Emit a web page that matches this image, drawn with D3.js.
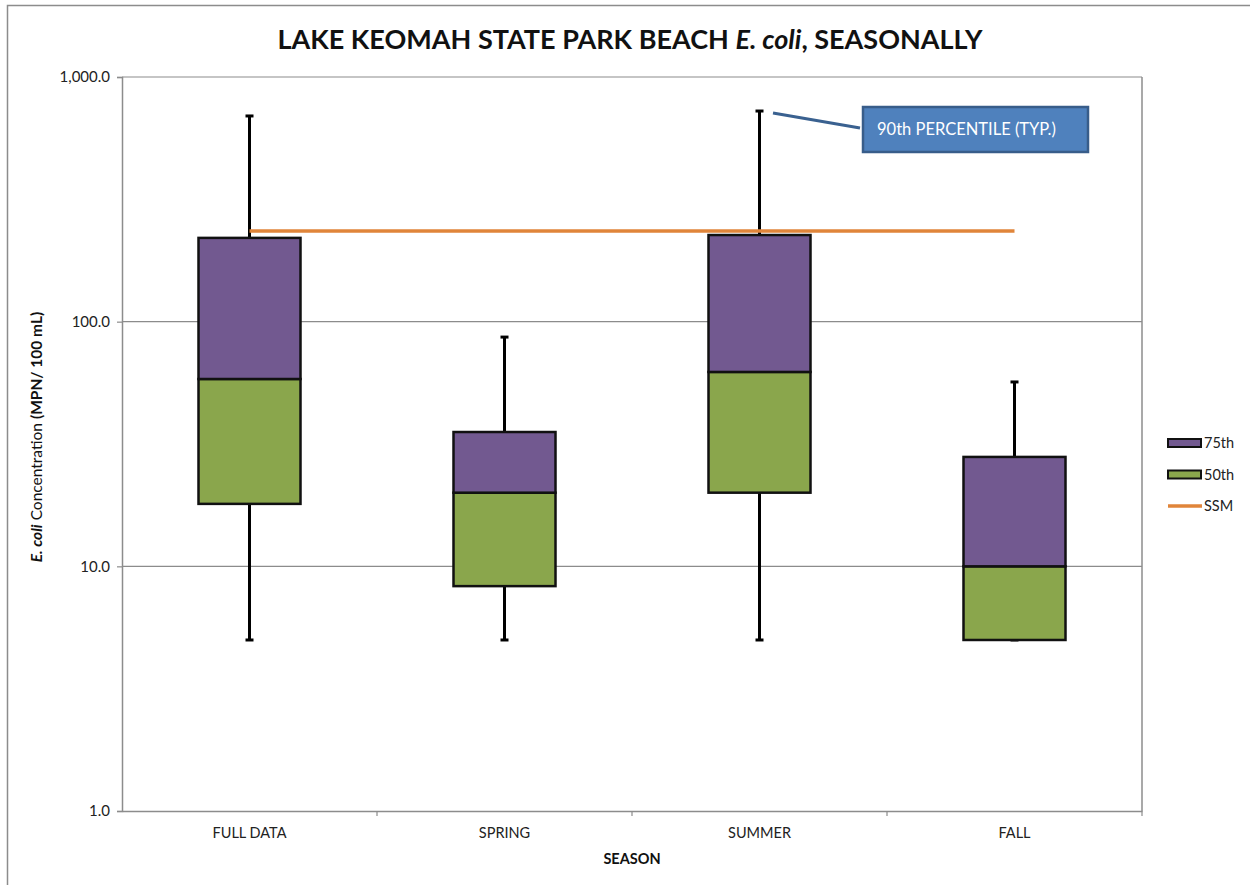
<!DOCTYPE html>
<html>
<head>
<meta charset="utf-8">
<script src="https://cdn.jsdelivr.net/npm/d3@7"></script>
<style>
  html, body { margin: 0; padding: 0; background: #fff; }
  svg { display: block; font-family: Lato, "Open Sans", sans-serif; }
</style>
</head>
<body>
<svg id="chart" width="1250" height="885"></svg>
<script>
// Seasonal E. coli statistics (MPN / 100 mL)
const seasons = ["FULL DATA", "SPRING", "SUMMER", "FALL"];
const p10 = [5.0, 5.0, 5.0, 5.0];
const q25 = [18.0, 8.3, 20.0, 5.0];
const q50 = [58.3, 20.0, 62.3, 10.0];
const q75 = [220, 35.4, 226, 28.0];
const p90 = [693, 86.5, 726, 56.7];
const ssm = 235;
const yTicks = [1, 10, 100, 1000];
const legendItems = ["75th", "50th", "SSM"];

const colors = { q75: "#725990", q50: "#8AA64C", ssm: "#E0853A", grid: "#8c8c8c" };

const svg = d3.select("#chart");
const margin = { left: 122, right: 1142, top: 77, bottom: 811 };

// outer frame (left and top edges)
svg.append("path")
  .attr("d", "M7.5,885 V5.5 H1250")
  .attr("fill", "none").attr("stroke", "#8c8c8c").attr("stroke-width", 1.5);

const x = d3.scaleBand().domain(seasons).range([margin.left, margin.right]).padding(0);
const y = d3.scaleLog().domain([1, 1000]).range([margin.bottom, margin.top]);

// horizontal gridlines
svg.append("g").selectAll("line").data(yTicks.slice(1)).join("line")
  .attr("x1", margin.left).attr("x2", margin.right)
  .attr("y1", d => y(d)).attr("y2", d => y(d))
  .attr("stroke", colors.grid).attr("stroke-width", 1.2);

// right border of plot area
svg.append("line")
  .attr("x1", margin.right).attr("x2", margin.right)
  .attr("y1", margin.top).attr("y2", margin.bottom)
  .attr("stroke", colors.grid).attr("stroke-width", 1.5);

// y axis
const yAxis = d3.axisLeft(y).tickValues(yTicks)
  .tickFormat(d3.format(",.1f")).tickSize(5).tickPadding(7);
const gy = svg.append("g").attr("transform", `translate(${margin.left},0)`).call(yAxis);
gy.select(".domain").attr("stroke", colors.grid).attr("stroke-width", 1.5);
gy.selectAll(".tick line").attr("stroke", colors.grid).attr("stroke-width", 1.2);
gy.selectAll(".tick text").attr("font-size", 15).attr("fill", "#222")
  .attr("font-family", "Lato, sans-serif");

// x axis
const xAxis = d3.axisBottom(x).tickSize(0).tickPadding(17);
const gx = svg.append("g").attr("transform", `translate(0,${margin.bottom})`).call(xAxis);
gx.select(".domain").attr("stroke", colors.grid).attr("stroke-width", 1.5);
gx.selectAll(".tick text").attr("font-size", 14.5).attr("fill", "#222")
  .attr("font-family", "Lato, sans-serif");
// category separator ticks
svg.append("g").selectAll("line").data(seasons).join("line")
  .attr("x1", d => x(d) + x.bandwidth()).attr("x2", d => x(d) + x.bandwidth())
  .attr("y1", margin.bottom).attr("y2", margin.bottom + 5)
  .attr("stroke", colors.grid).attr("stroke-width", 1.2);

// box plots
const boxW = x.bandwidth() * 0.4;
const cx = i => x(seasons[i]) + x.bandwidth() / 2;
const g = svg.append("g");
seasons.forEach((s, i) => {
  // whisker
  g.append("line").attr("x1", cx(i)).attr("x2", cx(i))
    .attr("y1", y(p10[i])).attr("y2", y(p90[i]))
    .attr("stroke", "#000").attr("stroke-width", 3);
  [p10[i], p90[i]].forEach(v => {
    g.append("line").attr("x1", cx(i) - 4).attr("x2", cx(i) + 4)
      .attr("y1", y(v)).attr("y2", y(v))
      .attr("stroke", "#000").attr("stroke-width", 3);
  });
  // 25th–50th segment
  g.append("rect").attr("x", cx(i) - boxW / 2).attr("width", boxW)
    .attr("y", y(q50[i])).attr("height", y(q25[i]) - y(q50[i]))
    .attr("fill", colors.q50).attr("stroke", "#111").attr("stroke-width", 2.5);
  // 50th–75th segment
  g.append("rect").attr("x", cx(i) - boxW / 2).attr("width", boxW)
    .attr("y", y(q75[i])).attr("height", y(q50[i]) - y(q75[i]))
    .attr("fill", colors.q75).attr("stroke", "#111").attr("stroke-width", 2.5);
});

// single-sample maximum line
svg.append("line")
  .attr("x1", cx(0)).attr("x2", cx(seasons.length - 1))
  .attr("y1", y(ssm)).attr("y2", y(ssm))
  .attr("stroke", colors.ssm).attr("stroke-width", 3.5);

// title
const title = svg.append("text").attr("x", 630).attr("y", 49)
  .attr("text-anchor", "middle").attr("font-size", 27).attr("font-weight", "bold")
  .attr("fill", "#111").attr("font-family", "Lato, sans-serif");
title.append("tspan").text("LAKE KEOMAH STATE PARK BEACH ");
title.append("tspan").attr("font-style", "italic").text("E. coli");
title.append("tspan").text(", SEASONALLY");

// axis titles
svg.append("text").attr("x", (margin.left + margin.right) / 2).attr("y", 864)
  .attr("text-anchor", "middle").attr("font-size", 14.5).attr("font-weight", "bold")
  .attr("fill", "#111").text("SEASON");
const yt = svg.append("text")
  .attr("transform", `translate(42,437) rotate(-90)`)
  .attr("text-anchor", "middle").attr("font-size", 15.5).attr("fill", "#111");
yt.append("tspan").attr("font-style", "italic").attr("font-weight", "bold").text("E. coli");
yt.append("tspan").text(" Concentration ");
yt.append("tspan").attr("font-weight", "bold").text(" (MPN/ 100 mL)");

// callout
svg.append("line").attr("x1", 773).attr("y1", 113).attr("x2", 860).attr("y2", 128)
  .attr("stroke", "#3A6190").attr("stroke-width", 3);
svg.append("rect").attr("x", 863).attr("y", 107).attr("width", 225).attr("height", 45)
  .attr("fill", "#4F81BD").attr("stroke", "#385D8A").attr("stroke-width", 2.5);
svg.append("text").attr("x", 877).attr("y", 135).attr("font-size", 16.5)
  .attr("fill", "#fff").text("90th PERCENTILE (TYP.)");

// legend
const lg = svg.append("g").attr("transform", "translate(1168,443)");
legendItems.forEach((name, i) => {
  const row = lg.append("g").attr("transform", `translate(0,${i * 31.5})`);
  if (name === "SSM") {
    row.append("line").attr("x1", 0).attr("x2", 34).attr("y1", 0).attr("y2", 0)
      .attr("stroke", colors.ssm).attr("stroke-width", 3.5);
  } else {
    row.append("rect").attr("x", 0).attr("y", -4).attr("width", 33).attr("height", 8)
      .attr("fill", name === "75th" ? colors.q75 : colors.q50)
      .attr("stroke", "#111").attr("stroke-width", 2);
  }
  row.append("text").attr("x", 36).attr("y", 5).attr("font-size", 14.5)
    .attr("fill", "#222").text(name);
});
</script>
</body>
</html>
